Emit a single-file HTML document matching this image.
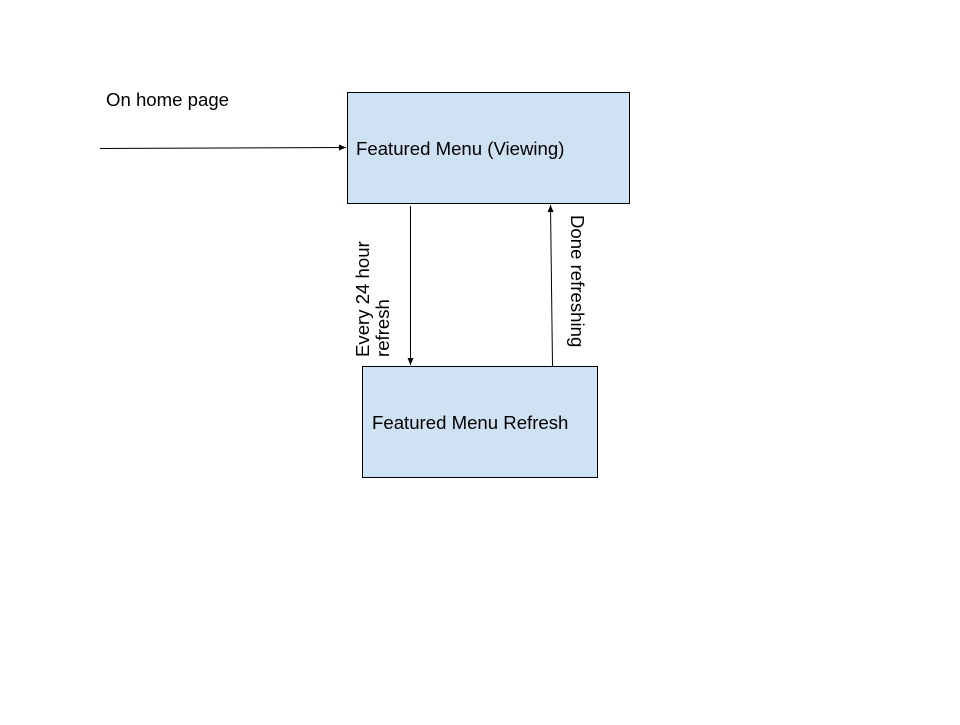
<!DOCTYPE html>
<html><head><style>
body{margin:0;background:#fff;}
svg text{font-family:"Liberation Sans",Arial,sans-serif;font-size:18.6px;fill:#000;}
</style></head><body>
<svg width="960" height="720" xmlns="http://www.w3.org/2000/svg">
<defs>
<marker id="a" markerWidth="8" markerHeight="8" refX="7" refY="4" orient="auto" markerUnits="userSpaceOnUse">
<path d="M0,1 L7,4 L0,7 Z" fill="#000"/></marker>
</defs>
<rect x="347.5" y="92.5" width="282" height="111" fill="#cfe2f3" stroke="#000" stroke-width="1"/>
<rect x="362.5" y="366.5" width="235" height="111" fill="#cfe2f3" stroke="#000" stroke-width="1"/>
<text x="356" y="155">Featured Menu (Viewing)</text>
<text x="372" y="429">Featured Menu Refresh</text>
<text x="106" y="106">On home page</text>
<line x1="100" y1="148.5" x2="346" y2="147.5" stroke="#000" stroke-width="1" marker-end="url(#a)"/>
<line x1="410.5" y1="206" x2="410.5" y2="365" stroke="#000" stroke-width="1" marker-end="url(#a)"/>
<line x1="552.5" y1="366" x2="550.5" y2="205" stroke="#000" stroke-width="1" marker-end="url(#a)"/>
<text transform="translate(369,357) rotate(-90)">Every 24 hour</text>
<text transform="translate(389,357) rotate(-90)">refresh</text>
<text transform="translate(571,215) rotate(90)">Done refreshing</text>
</svg>
</body></html>
